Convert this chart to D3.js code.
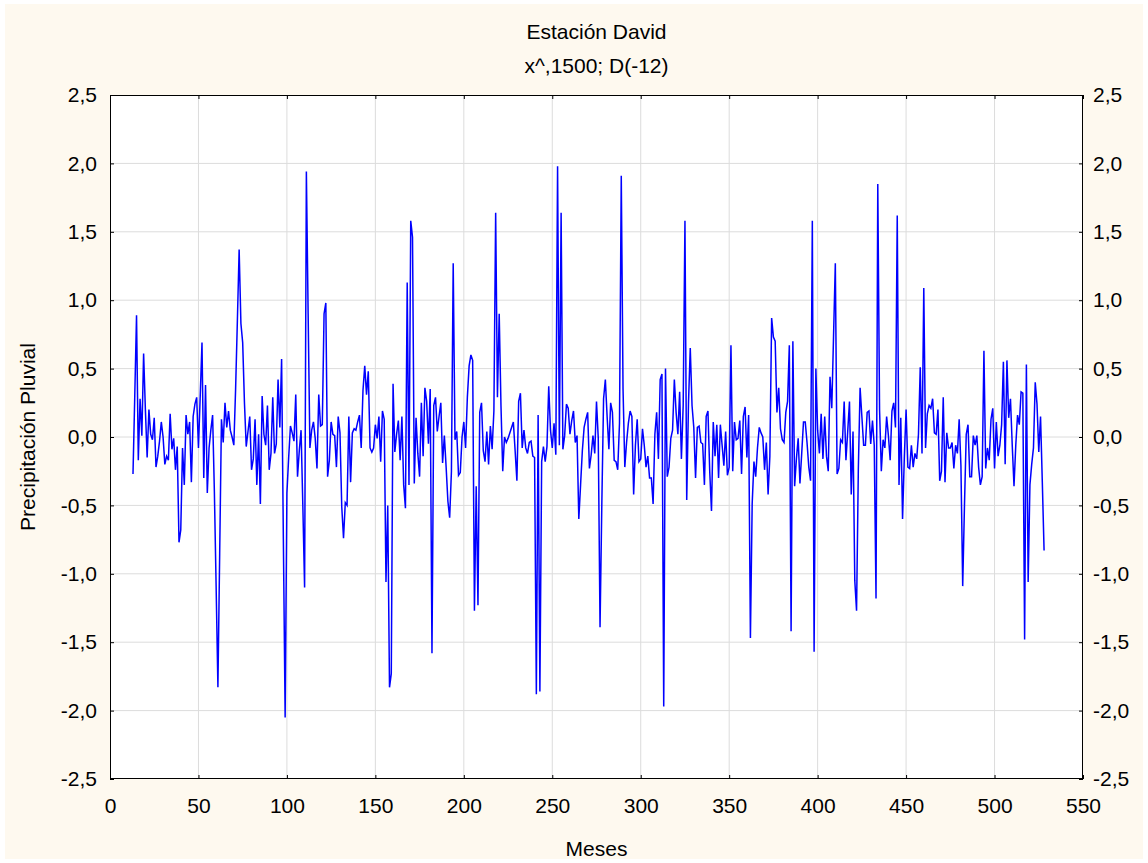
<!DOCTYPE html>
<html><head><meta charset="utf-8">
<script src="https://cdn.jsdelivr.net/npm/d3@7"></script>
<style>html,body{margin:0;padding:0;background:#fff;}svg{display:block;font-family:"Liberation Sans",Arial,sans-serif;}</style>
</head><body>
<script>
const titleLines = ["Estación David", "x^,1500; D(-12)"];
const xLabel = "Meses";
const yLabel = "Precipitación Pluvial";
const xTicks = [0,50,100,150,200,250,300,350,400,450,500,550];
const yTicks = [-2.5,-2,-1.5,-1,-0.5,0,0.5,1,1.5,2,2.5];
const firstMonth = 13;
const values = [
-0.27,0.30,0.89,-0.17,0.28,0.01,0.61,0.20,-0.15,0.20,0.02,-0.02,0.14,-0.22,-0.14,-0.03,0.11,0.00,-0.20,-0.14,
-0.17,0.17,-0.09,-0.01,-0.24,-0.07,-0.77,-0.68,-0.08,-0.35,0.16,0.02,0.11,-0.33,0.15,0.24,0.29,-0.08,0.30,0.69,
-0.30,0.38,-0.41,-0.08,0.05,0.16,-0.40,-1.10,-1.83,-0.85,0.13,-0.04,0.25,0.07,0.19,0.05,0.00,-0.06,0.35,0.85,
1.37,0.83,0.69,0.25,-0.07,0.04,0.15,-0.24,-0.16,0.13,-0.35,0.02,-0.49,0.30,0.02,-0.06,0.23,-0.24,-0.12,0.29,
-0.12,-0.05,0.42,0.07,0.57,-0.75,-2.05,-0.41,-0.15,0.08,0.03,-0.03,0.31,-0.29,-0.10,0.05,-0.50,-1.10,1.94,0.90,
-0.08,0.05,0.11,-0.01,-0.23,0.31,0.08,0.09,0.90,0.98,-0.29,-0.17,0.11,0.02,0.01,-0.22,0.15,0.03,-0.51,-0.74,
-0.48,-0.50,0.15,-0.33,0.03,0.06,0.05,0.11,0.16,-0.08,0.34,0.52,0.31,0.48,-0.08,-0.11,-0.08,0.09,-0.01,0.15,
-0.18,0.19,0.13,-1.06,-0.50,-1.83,-1.73,0.39,-0.11,0.02,0.12,-0.17,0.15,-0.35,-0.52,1.13,-0.35,1.58,1.46,-0.34,
0.14,-0.12,-0.29,0.25,-0.14,0.36,0.26,-0.05,0.35,-1.58,0.23,0.29,0.04,0.15,0.25,-0.19,0.01,-0.22,-0.47,-0.59,
-0.25,1.27,-0.02,0.04,-0.28,-0.26,0.00,0.11,-0.08,0.29,0.52,0.60,0.56,-1.27,-0.36,-1.23,0.18,0.25,-0.10,-0.18,
0.04,-0.20,0.08,-0.09,0.19,1.64,0.29,0.90,0.23,-0.25,0.00,-0.04,-0.01,0.03,0.07,0.11,-0.10,-0.32,0.26,0.32,
-0.08,0.05,-0.08,-0.12,-0.04,-0.03,-0.14,-0.15,-1.88,0.16,-1.86,-0.18,-0.07,-0.18,-0.07,0.37,0.05,-0.08,0.10,-0.13,
1.98,-0.06,1.64,-0.09,0.01,0.24,0.21,0.02,0.12,0.19,-0.04,0.01,-0.60,-0.35,-0.10,0.07,0.13,0.18,-0.23,-0.13,
0.01,-0.12,0.26,-0.01,-1.39,-0.50,0.28,0.42,0.15,-0.09,0.25,0.18,-0.17,-0.18,-0.24,0.10,1.91,0.35,-0.22,-0.04,
0.10,0.19,0.15,-0.42,-0.06,0.13,-0.18,-0.16,0.06,-0.06,-0.22,-0.14,-0.30,-0.30,-0.49,0.02,0.18,-0.16,0.42,0.46,
-1.97,0.50,-0.29,-0.22,-0.01,0.05,0.42,0.18,0.02,0.33,-0.16,0.23,1.58,-0.46,0.25,0.65,0.23,0.07,-0.30,0.07,
0.08,-0.04,-0.05,-0.35,0.15,0.19,-0.25,-0.54,0.11,-0.14,0.09,-0.30,0.09,-0.06,-0.21,0.04,-0.28,-0.22,0.67,-0.25,
0.11,-0.02,-0.01,0.12,-0.27,0.15,0.22,-0.15,0.16,-1.47,-0.49,-0.18,-0.29,-0.08,0.07,0.03,0.00,-0.24,-0.04,-0.42,
-0.14,0.87,0.73,0.70,0.18,0.36,0.06,-0.02,-0.04,0.18,0.26,0.67,-1.42,0.70,-0.36,-0.16,-0.01,-0.34,-0.12,0.11,
0.11,-0.04,-0.22,-0.32,1.58,-1.57,0.50,0.05,-0.12,0.17,-0.16,0.15,-0.14,-0.25,0.44,0.21,0.74,1.27,-0.27,-0.23,
-0.02,-0.04,0.26,-0.17,0.04,0.26,-0.42,0.04,-1.05,-1.27,-0.24,0.36,0.15,-0.06,-0.06,0.18,0.19,-0.05,0.12,-0.06,
-1.18,1.85,0.20,-0.25,-0.02,-0.08,0.15,0.01,-0.17,0.19,0.25,0.07,1.62,-0.35,0.14,-0.60,-0.15,0.20,-0.22,-0.23,
-0.06,-0.22,-0.12,-0.16,0.02,0.51,-0.12,1.09,-0.08,0.17,0.23,0.21,0.28,0.03,0.02,0.20,-0.32,-0.25,0.29,-0.33,
0.03,-0.08,-0.08,-0.04,-0.23,-0.06,-0.12,0.13,-0.21,-1.09,-0.50,0.02,0.09,-0.29,-0.29,0.01,-0.06,0.01,-0.22,-0.35,
-0.29,0.63,-0.23,-0.08,-0.17,0.13,0.21,-0.23,0.11,-0.14,-0.06,0.09,0.55,-0.20,0.56,0.14,0.28,-0.06,-0.36,-0.06,
0.16,0.09,0.33,0.32,-1.48,0.53,-1.06,-0.35,-0.20,-0.08,0.40,0.24,-0.11,0.15,-0.33,-0.83
];

const W = 1148, H = 863;
const m = {left:110, right:1083, top:95, bottom:779};
const FS = "21px";
const fmt = v => d3.format(".1f")(v).replace(".", ",").replace("−","-");

const svg = d3.select("body").append("svg").attr("width", W).attr("height", H);
svg.append("rect").attr("x",5).attr("y",4).attr("width",W-10).attr("height",H-8).attr("fill","#fef9ef");

const x = d3.scaleLinear().domain([0,550]).range([m.left, m.right]);
const y = d3.scaleLinear().domain([-2.5,2.5]).range([m.bottom, m.top]);

svg.append("rect").attr("x",m.left).attr("y",m.top).attr("width",m.right-m.left).attr("height",m.bottom-m.top).attr("fill","#fff");

// grid
const g = svg.append("g");
g.selectAll(".vg").data(xTicks.slice(1,-1)).join("line")
  .attr("x1",d=>x(d)).attr("x2",d=>x(d)).attr("y1",m.top).attr("y2",m.bottom)
  .attr("stroke","#dcdcdc").attr("stroke-width",1);
g.selectAll(".hg").data(yTicks.slice(1,-1)).join("line")
  .attr("y1",d=>y(d)).attr("y2",d=>y(d)).attr("x1",m.left).attr("x2",m.right)
  .attr("stroke","#dcdcdc").attr("stroke-width",1);

// axes
const tickStyle = sel => { sel.select(".domain").remove(); sel.selectAll("line").attr("stroke","#000"); sel.selectAll("text").attr("font-size",FS).attr("fill","#000").attr("font-family","Liberation Sans, Arial, sans-serif"); };
svg.append("g").attr("transform",`translate(0,${m.bottom})`)
  .call(d3.axisBottom(x).tickValues(xTicks).tickSize(-4).tickPadding(19).tickFormat(d3.format("d"))).call(tickStyle);
svg.append("g").attr("transform",`translate(0,${m.top})`)
  .call(d3.axisTop(x).tickValues(xTicks).tickSize(-4).tickFormat("")).call(tickStyle);
svg.append("g").attr("transform",`translate(${m.left},0)`)
  .call(d3.axisLeft(y).tickValues(yTicks).tickSize(-4).tickPadding(13).tickFormat(fmt)).call(tickStyle);
svg.append("g").attr("transform",`translate(${m.right},0)`)
  .call(d3.axisRight(y).tickValues(yTicks).tickSize(-4).tickPadding(10).tickFormat(fmt)).call(tickStyle);

svg.append("rect").attr("x",m.left+0.5).attr("y",m.top+0.5).attr("width",m.right-m.left-1).attr("height",m.bottom-m.top-1)
  .attr("fill","none").attr("stroke","#000").attr("stroke-width",1);

// line
const data = values.map((v,i)=>({m:firstMonth+i, v}));
svg.append("path").datum(data)
  .attr("fill","none").attr("stroke","#0000ff").attr("stroke-width",1.5).attr("stroke-linejoin","miter")
  .attr("d", d3.line().x(d=>x(d.m)).y(d=>y(d.v)));

// titles
svg.selectAll(".title").data(titleLines).join("text")
  .attr("x",(m.left+m.right)/2).attr("y",(d,i)=>39+i*34).attr("text-anchor","middle")
  .attr("font-size",FS).text(d=>d);
svg.append("text").attr("x",(m.left+m.right)/2).attr("y",856).attr("text-anchor","middle").attr("font-size",FS).text(xLabel);
svg.append("text").attr("transform",`translate(35,${(m.top+m.bottom)/2}) rotate(-90)`).attr("text-anchor","middle").attr("font-size",FS).text(yLabel);
</script>
</body></html>
